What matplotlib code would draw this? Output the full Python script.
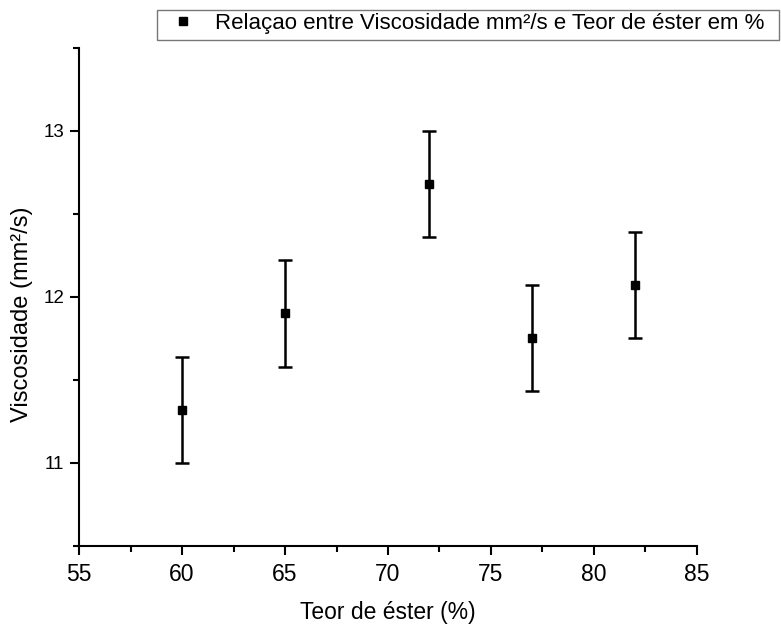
import numpy as np
import matplotlib
matplotlib.use('Agg')
from matplotlib import pyplot as plt
from matplotlib.lines import Line2D
from matplotlib.patches import Rectangle
from matplotlib.ticker import MultipleLocator

plt.rcParams['font.family'] = ['Liberation Sans', 'DejaVu Sans']

# Data
teor = [60, 65, 72, 77, 82]
viscosidade = [11.32, 11.90, 12.68, 11.75, 12.07]
erro = [0.32, 0.32, 0.32, 0.32, 0.32]

fig = plt.figure(figsize=(7.81, 6.26), dpi=100)
ax = fig.add_axes([0.1012, 0.1283, 0.7912, 0.795])

ax.errorbar(teor, viscosidade, yerr=erro, fmt='s', color='black',
            markersize=6, elinewidth=1.8, capsize=5, capthick=1.8)

ax.set_xlim(55, 85)
ax.set_ylim(10.5, 13.5)
ax.xaxis.set_major_locator(MultipleLocator(5))
ax.xaxis.set_minor_locator(MultipleLocator(2.5))
ax.yaxis.set_major_locator(MultipleLocator(1))
ax.yaxis.set_minor_locator(MultipleLocator(0.5))

for side in ['top', 'right']:
  ax.spines[side].set_visible(False)
for side in ['left', 'bottom']:
  ax.spines[side].set_linewidth(1.5)

ax.tick_params(which='major', direction='out', length=6.5, width=1.5)
ax.tick_params(which='minor', direction='out', length=4, width=1.5)
ax.tick_params(axis='x', labelsize=16.5, pad=6)
ax.tick_params(axis='y', labelsize=13.5, pad=4)

ax.set_xlabel('Teor de éster (%)', fontsize=16.5, labelpad=11)
ax.set_ylabel('Viscosidade (mm²/s)', fontsize=17)
ax.yaxis.set_label_coords(-0.074, 0.466)

# legend with a plain rectangular frame like the original
handle = Line2D([], [], marker='s', color='black', linestyle='None',
                markersize=6)
leg = fig.legend([handle], ['Relaçao entre Viscosidade mm²/s e Teor de éster em %'],
                 loc='upper left', bbox_to_anchor=(0.201, 0.986),
                 fontsize=16, frameon=False, handlelength=1.95,
                 borderpad=0.2, handletextpad=0.48, borderaxespad=0)
fig.patches.append(Rectangle((0.201, 0.936), 0.797, 0.048,
                             transform=fig.transFigure, fill=False,
                             edgecolor='#777777', linewidth=1))

fig.savefig('out.png', dpi=100)
